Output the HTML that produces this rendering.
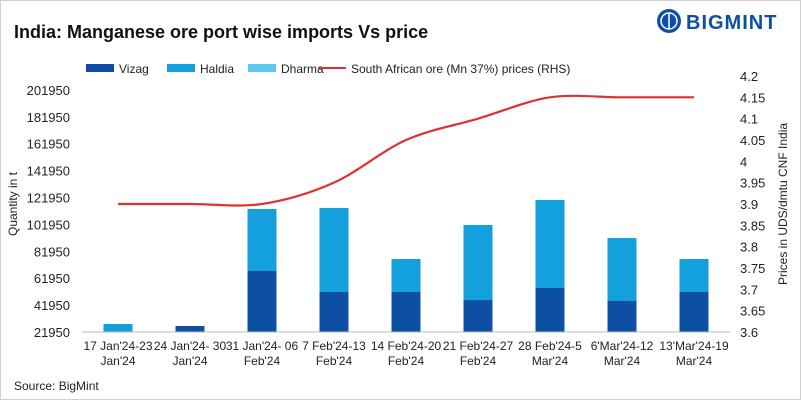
<!DOCTYPE html>
<html><head><meta charset="utf-8"><style>
body{margin:0;background:#fff;font-family:"Liberation Sans",sans-serif;}
#wrap{position:relative;width:801px;height:400px;overflow:hidden;background:#fff;}
</style></head><body>
<div id="wrap">
<svg id="svg" width="801" height="400" xmlns="http://www.w3.org/2000/svg">
<rect x="0.5" y="0.5" width="800" height="399" fill="#fff" stroke="#d0d0d0"/>
<text x="14" y="38" font-size="18" font-weight="bold" fill="#111">India: Manganese ore port wise imports Vs price</text>
<g>
<circle cx="669" cy="21" r="12" fill="#0d4fa3"/>
<circle cx="669" cy="21" r="8" fill="none" stroke="#fff" stroke-width="1.5"/>
<line x1="669" y1="13" x2="669" y2="29" stroke="#fff" stroke-width="1.5"/>
<text x="686" y="29" font-size="20" font-weight="bold" fill="#0d4fa3" letter-spacing="1">BIGMINT</text>
</g>
<g id="legend" font-size="12" fill="#222"></g>
<g id="plot"></g>
<text x="14" y="390" font-size="12" fill="#222">Source: BigMint</text>
</svg>
</div>
<script>
const categories=[["17 Jan'24-23","Jan'24"],["24 Jan'24- 30","Jan'24"],["31 Jan'24- 06","Feb'24"],["7 Feb'24-13","Feb'24"],["14 Feb'24-20","Feb'24"],["21 Feb'24-27","Feb'24"],["28 Feb'24-5","Mar'24"],["6'Mar'24-12","Mar'24"],["13'Mar'24-19","Mar'24"]];
const vizag=[0,26400,67300,51700,51700,45700,54700,45000,51700];
const haldia=[27900,0,46100,62400,24500,55800,65400,46800,24500];
const dharma=[0,0,0,0,0,0,0,0,0];
const price=[3.9,3.9,3.9,3.95,4.05,4.1,4.15,4.15,4.15];
const leftTicks=[21950,41950,61950,81950,101950,121950,141950,161950,181950,201950];
const rightTicks=[3.6,3.65,3.7,3.75,3.8,3.85,3.9,3.95,4,4.05,4.1,4.15,4.2];
const NS="http://www.w3.org/2000/svg";
const X0=82,X1=730,YB=332,YT=76,LMIN=21950,LMAX=212250,RMIN=3.6,RMAX=4.2;
const bw=(X1-X0)/categories.length;
function xc(i){return X0+bw*(i+0.5);}
function yl(v){return YB-(v-LMIN)/(LMAX-LMIN)*(YB-YT);}
function yr(v){return YB-(v-RMIN)/(RMAX-RMIN)*(YB-YT);}
const plot=document.getElementById('plot');
function mk(t,a,p){const e=document.createElementNS(NS,t);for(const k in a)e.setAttribute(k,a[k]);(p||plot).appendChild(e);return e;}
leftTicks.forEach(v=>{const t=mk('text',{x:70,y:yl(v)+5,'text-anchor':'end','font-size':13,fill:'#222'});t.textContent=v;

});
rightTicks.forEach(v=>{const t=mk('text',{x:740,y:yr(v)+5,'font-size':13,fill:'#222'});t.textContent=String(v);

});
const yt=mk('text',{transform:'translate(17,204) rotate(-90)','text-anchor':'middle','font-size':12,fill:'#222'});yt.textContent='Quantity in t';


const yt2=mk('text',{transform:'translate(787,204) rotate(-90)','text-anchor':'middle','font-size':12,fill:'#222'});yt2.textContent='Prices in UDS/dmtu CNF India';


const w=29;
categories.forEach((c,i)=>{
 let base=LMIN;
 [[vizag,'#0d4fa3','vizag'],[haldia,'#14a0dc','haldia'],[dharma,'#5bc8f0','dharma']].forEach(([arr,col,nm])=>{
  const v=arr[i];if(v<=0)return;
  const top=base+(base===LMIN?v-LMIN:v);
  const r=mk('rect',{x:xc(i)-w/2,y:yl(top),width:w,height:yl(base)-yl(top),fill:col});
  
  
  base=top;
 });
 c.forEach((s,j)=>{const t=mk('text',{x:xc(i),y:350+j*15,'text-anchor':'middle','font-size':12,fill:'#222'});t.textContent=s;
 
 });
});
mk('line',{x1:X0,y1:YB,x2:X1,y2:YB,stroke:'#bbb'});
const pts=price.map((v,i)=>[xc(i),yr(v)]);
let d='M'+pts[0][0]+','+pts[0][1];
for(let i=0;i<pts.length-1;i++){const p0=pts[Math.max(0,i-1)],p1=pts[i],p2=pts[i+1],p3=pts[Math.min(pts.length-1,i+2)];
 const k=0.16;d+=` C${p1[0]+(p2[0]-p0[0])*k},${p1[1]+(p2[1]-p0[1])*k} ${p2[0]-(p3[0]-p1[0])*k},${p2[1]-(p3[1]-p1[1])*k} ${p2[0]},${p2[1]}`;}
const ln=mk('path',{d:d,fill:'none',stroke:'#e03131','stroke-width':2.2});


const lg=document.getElementById('legend');
[['Vizag','#0d4fa3',86,'rect'],['Haldia','#14a0dc',167,'rect'],['Dharma','#5bc8f0',248,'rect'],['South African ore (Mn 37%) prices (RHS)','#e03131',318,'line']].forEach(([n,c,x,t])=>{
 const g=mk('g',{},lg);
 
 
 if(t==='rect')mk('rect',{x:x,y:64,width:28,height:8,fill:c},g);else mk('line',{x1:x,y1:68,x2:x+28,y2:68,stroke:c,'stroke-width':2},g);
 const tx=mk('text',{x:x+33,y:73,'font-size':12,fill:'#222'},g);tx.textContent=n;
});
</script>
</body></html>
